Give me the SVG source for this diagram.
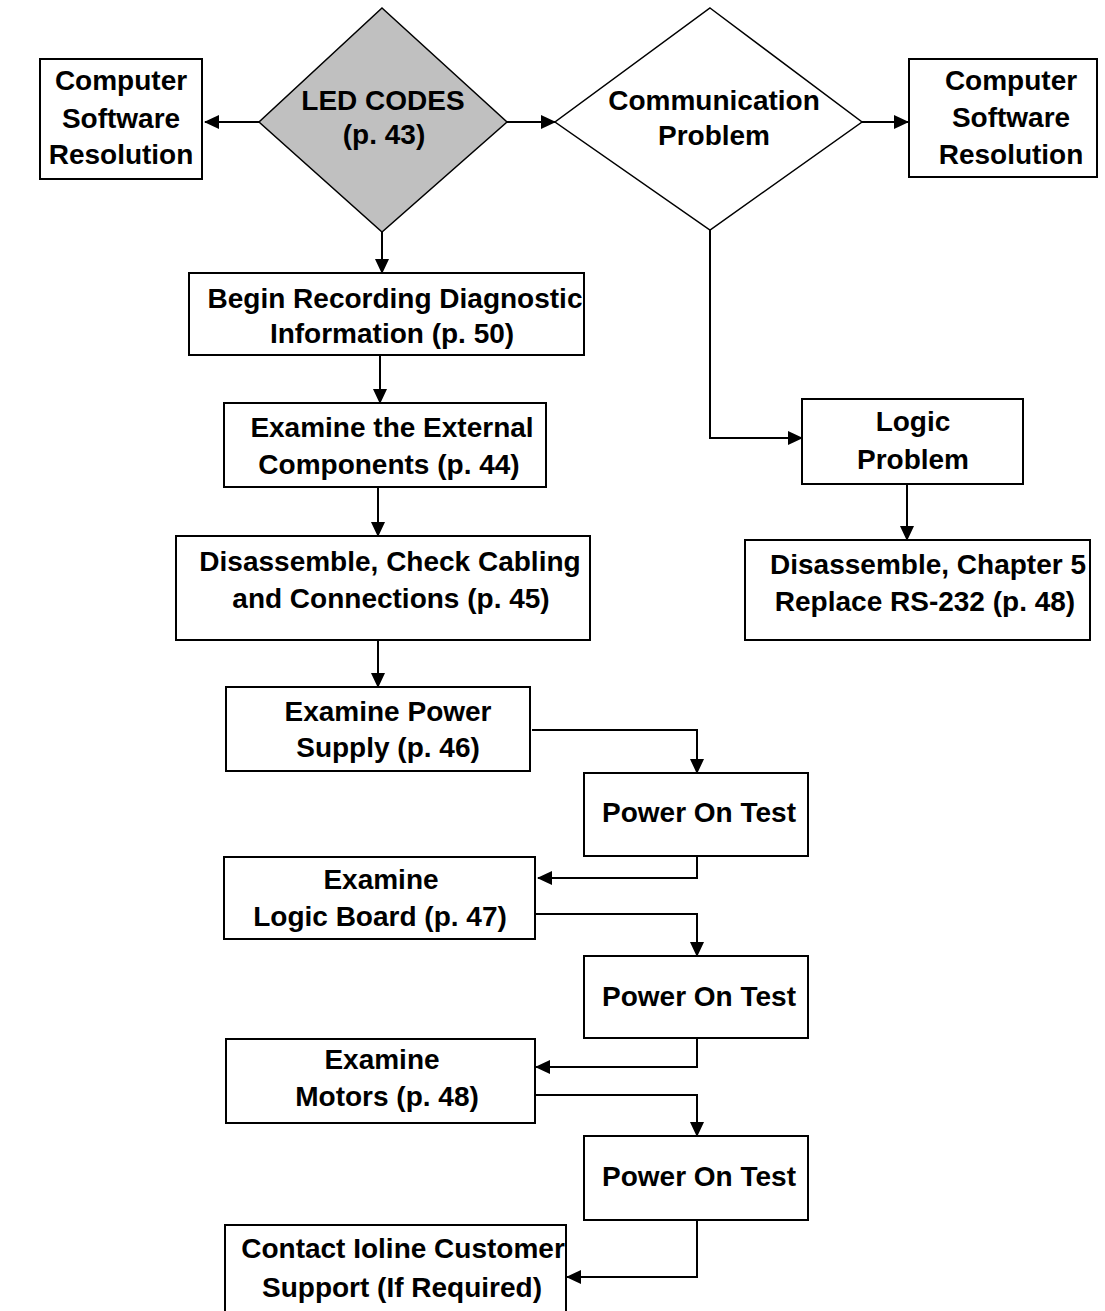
<svg xmlns="http://www.w3.org/2000/svg" width="1105" height="1311" viewBox="0 0 1105 1311">
<style>
.box{fill:#fff;stroke:#000;stroke-width:2}
.dec{stroke:#000;stroke-width:1.5}
.t{font-family:"Liberation Sans",Arial,sans-serif;font-weight:bold;font-size:28px;fill:#000;text-anchor:middle}
.c{fill:none;stroke:#000;stroke-width:2}
</style>
<defs>
<marker id="ah" markerWidth="15" markerHeight="14" viewBox="0 0 15 14" refX="14" refY="7" orient="auto" markerUnits="userSpaceOnUse">
<path d="M0,0 L15,7 L0,14 Z" fill="#000"/>
</marker>
</defs>
<rect width="1105" height="1311" fill="#fff"/>
<g id="connectors">
<path class="c" d="M259,122 H205" marker-end="url(#ah)"/>
<path class="c" d="M506,122 H555" marker-end="url(#ah)"/>
<path class="c" d="M862,122 H908" marker-end="url(#ah)"/>
<path class="c" d="M710,230 V438 H802" marker-end="url(#ah)"/>
<path class="c" d="M907,484 V540" marker-end="url(#ah)"/>
<path class="c" d="M382,232 V273" marker-end="url(#ah)"/>
<path class="c" d="M380,355 V403" marker-end="url(#ah)"/>
<path class="c" d="M378,487 V536" marker-end="url(#ah)"/>
<path class="c" d="M378,640 V687" marker-end="url(#ah)"/>
<path class="c" d="M532,730 H697 V773" marker-end="url(#ah)"/>
<path class="c" d="M697,850 V878 H538" marker-end="url(#ah)"/>
<path class="c" d="M535,914 H697 V956" marker-end="url(#ah)"/>
<path class="c" d="M697,1038 V1067 H536" marker-end="url(#ah)"/>
<path class="c" d="M535,1095 H697 V1136" marker-end="url(#ah)"/>
<path class="c" d="M697,1220 V1277 H567" marker-end="url(#ah)"/>
</g>
<g id="sw-left">
<rect class="box" x="40" y="59" width="162" height="120"/>
<text class="t" x="121" y="90">Computer</text>
<text class="t" x="121" y="128">Software</text>
<text class="t" x="121" y="164">Resolution</text>
</g>
<g id="led">
<polygon class="dec" fill="#c0c0c0" points="382,8 507,122 382,232 259,122"/>
<text class="t" x="383" y="110">LED CODES</text>
<text class="t" x="384" y="144">(p. 43)</text>
</g>
<g id="comm">
<polygon class="dec" fill="#fff" points="710,8 862,122 710,230 555,122"/>
<text class="t" x="714" y="110">Communication</text>
<text class="t" x="714" y="145">Problem</text>
</g>
<g id="sw-right">
<rect class="box" x="909" y="59" width="188" height="118"/>
<text class="t" x="1011" y="90">Computer</text>
<text class="t" x="1011" y="127">Software</text>
<text class="t" x="1011" y="164">Resolution</text>
</g>
<g id="begin">
<rect class="box" x="189" y="273" width="395" height="82"/>
<text class="t" x="395" y="308">Begin Recording Diagnostic</text>
<text class="t" x="392" y="343">Information (p. 50)</text>
</g>
<g id="external">
<rect class="box" x="224" y="403" width="322" height="84"/>
<text class="t" x="392" y="437">Examine the External</text>
<text class="t" x="389" y="474">Components (p. 44)</text>
</g>
<g id="cabling">
<rect class="box" x="176" y="536" width="414" height="104"/>
<text class="t" x="390" y="571">Disassemble, Check Cabling</text>
<text class="t" x="391" y="608">and Connections (p. 45)</text>
</g>
<g id="power">
<rect class="box" x="226" y="687" width="304" height="84"/>
<text class="t" x="388" y="721">Examine Power</text>
<text class="t" x="388" y="757">Supply (p. 46)</text>
</g>
<g id="pot1">
<rect class="box" x="584" y="773" width="224" height="83"/>
<text class="t" x="699" y="822">Power On Test</text>
</g>
<g id="logicboard">
<rect class="box" x="224" y="857" width="311" height="82"/>
<text class="t" x="381" y="889">Examine</text>
<text class="t" x="380" y="926">Logic Board (p. 47)</text>
</g>
<g id="pot2">
<rect class="box" x="584" y="956" width="224" height="82"/>
<text class="t" x="699" y="1006">Power On Test</text>
</g>
<g id="motors">
<rect class="box" x="226" y="1039" width="309" height="84"/>
<text class="t" x="382" y="1069">Examine</text>
<text class="t" x="387" y="1106">Motors (p. 48)</text>
</g>
<g id="pot3">
<rect class="box" x="584" y="1136" width="224" height="84"/>
<text class="t" x="699" y="1186">Power On Test</text>
</g>
<g id="contact">
<rect class="box" x="225" y="1225" width="341" height="90"/>
<text class="t" x="403" y="1258">Contact Ioline Customer</text>
<text class="t" x="402" y="1297">Support (If Required)</text>
</g>
<g id="logicproblem">
<rect class="box" x="802" y="399" width="221" height="85"/>
<text class="t" x="913" y="431">Logic</text>
<text class="t" x="913" y="469">Problem</text>
</g>
<g id="chapter5">
<rect class="box" x="745" y="540" width="345" height="100"/>
<text class="t" x="928" y="574">Disassemble, Chapter 5</text>
<text class="t" x="925" y="611">Replace RS-232 (p. 48)</text>
</g>
</svg>
